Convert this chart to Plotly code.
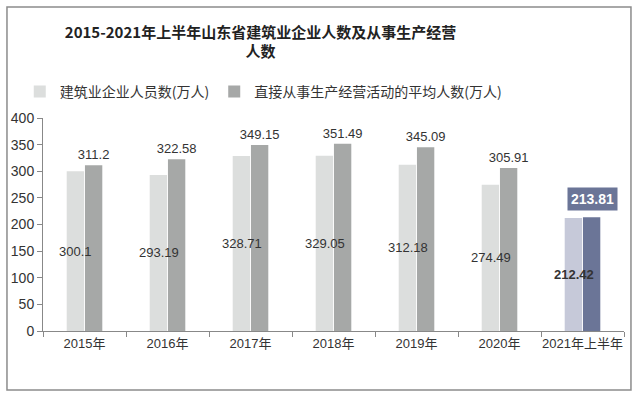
import plotly.graph_objects as go

categories = ["2015年", "2016年", "2017年", "2018年", "2019年", "2020年", "2021年上半年"]
employees = [300.1, 293.19, 328.71, 329.05, 312.18, 274.49, 212.42]
direct_workers = [311.2, 322.58, 349.15, 351.49, 345.09, 305.91, 213.81]
y_ticks = [0, 50, 100, 150, 200, 250, 300, 350, 400]

light_colors = ["#dcdedd"] * 6 + ["#c6c9d9"]
dark_colors = ["#a6a8a7"] * 6 + ["#6b7597"]

font_fam = "Liberation Sans, Arial, Noto Sans CJK SC"

light_text = [f"{v:g}" for v in employees[:-1]] + [f"<b>{employees[-1]:g}</b>"]
dark_text = [f"{v:g}" for v in direct_workers[:-1]] + [""]

fig = go.Figure()
fig.add_trace(go.Bar(
    x=categories, y=employees, name="建筑业企业人员数(万人)",
    marker=dict(color=light_colors, line=dict(width=0)),
    hoverinfo="x+y",
))
fig.add_trace(go.Bar(
    x=categories, y=direct_workers, name="直接从事生产经营活动的平均人数(万人)",
    marker=dict(color=dark_colors, line=dict(width=0)),
    text=dark_text, textposition="outside", textangle=0, cliponaxis=False,
    constraintext="none",
    textfont=dict(size=13, color="#333333", family=font_fam),
    hoverinfo="x+y",
))

# labels in the middle of the light bars (drawn above both bars)
for cat, val, txt in zip(categories, employees, light_text):
    fig.add_annotation(
        x=cat, y=val / 2, xshift=-9, text=txt, showarrow=False,
        font=dict(size=13, color="#333333", family=font_fam),
    )

fig.add_annotation(
    x=categories[-1], y=direct_workers[-1], xshift=10, yshift=18,
    text=f"<b>{direct_workers[-1]:g}</b>", showarrow=False,
    bgcolor="#6b7597", borderpad=3,
    font=dict(size=14, color="white", family=font_fam),
)

fig.add_shape(type="rect", xref="paper", yref="paper",
              x0=-0.062, x1=1.012, y0=-0.277, y1=1.521,
              line=dict(color="#8c8c8c", width=1.5), fillcolor="rgba(0,0,0,0)")

fig.update_layout(
    width=640, height=397,
    margin=dict(l=43, r=16, t=118, b=66, autoexpand=False),
    paper_bgcolor="white", plot_bgcolor="white",
    barmode="group", bargap=0.56, bargroupgap=0.05,
    title=dict(
        text="<b>2015-2021年上半年山东省建筑业企业人数及从事生产经营<br>人数</b>",
        x=0.407, xanchor="center", y=0.905, yanchor="middle",
        font=dict(size=15, color="#222222", family="Noto Sans CJK SC"),
    ),
    legend=dict(
        orientation="h", x=-0.04, xanchor="left", y=1.122, yanchor="middle",
        font=dict(size=14, color="#333333", family="Noto Sans CJK SC"),
        bgcolor="rgba(0,0,0,0)",
    ),
    xaxis=dict(
        showline=True, linecolor="#888888", linewidth=1,
        ticks="outside", tickcolor="#888888", ticklen=5,
        tickson="boundaries", tickangle=0,
        tickfont=dict(size=13, color="#333333", family=font_fam),
        showgrid=False,
    ),
    yaxis=dict(
        range=[0, 400], tickvals=y_ticks,
        showline=True, linecolor="#888888", linewidth=1,
        ticks="outside", tickcolor="#888888", ticklen=5,
        tickfont=dict(size=14, color="#333333", family=font_fam),
        showgrid=False, zeroline=False,
    ),
    showlegend=True,
)

fig.write_html("out.html", config={"displayModeBar": False},
               post_script="document.body.style.margin='0';")
